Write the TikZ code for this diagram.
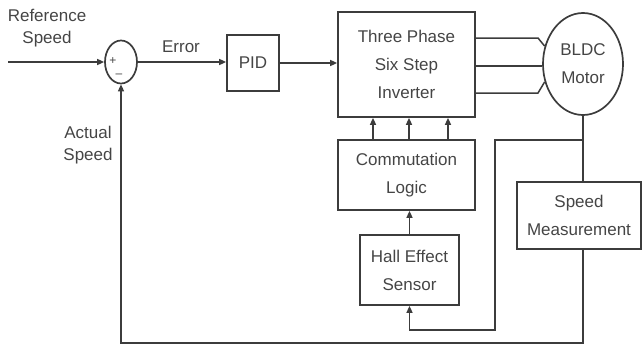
\documentclass[tikz,border=0pt]{standalone}
\usepackage{fontspec}
\setmainfont{Liberation Sans}
\usetikzlibrary{shapes.geometric,arrows.meta}

\definecolor{wire}{HTML}{3C3C3C}
\definecolor{ink}{HTML}{454545}

\tikzset{
  blk/.style={draw=wire,line width=1.7pt,inner sep=0pt,align=center,text=ink,
    font=\fontsize{17}{28}\selectfont},
  lbl/.style={text=ink,align=center,inner sep=0pt,font=\fontsize{17}{22}\selectfont},
  wire/.style={draw=wire,line width=1.5pt},
  sig/.style={wire,-{Triangle[length=7pt,width=6pt]}},
}

\begin{document}
\begin{tikzpicture}[x=1pt,y=-1pt]
\path[use as bounding box] (0,0) rectangle (642,346);

% blocks
\node[blk,ellipse,minimum width=32,minimum height=43] (sum) at (121,62) {};
\node[text=ink,inner sep=0pt,font=\fontsize{12}{12}\selectfont] (plus) at (113,61) {+};
\node[text=ink,inner sep=0pt,font=\fontsize{12}{12}\selectfont] (minus) at (119,76) {--};
\node[blk,minimum width=52,minimum height=56] (pid) at (253,63) {PID};
\node[blk,minimum width=137,minimum height=105] (inv) at (406.5,64.5)
  {Three Phase\\Six Step\\Inverter};
\node[blk,ellipse,minimum width=80,minimum height=102] (motor) at (583,64)
  {BLDC\\Motor};
\node[blk,minimum width=137,minimum height=70] (comm) at (406.5,175)
  {Commutation\\Logic};
\node[blk,minimum width=99,minimum height=70] (hall) at (409.5,270)
  {Hall Effect\\Sensor};
\node[blk,minimum width=124,minimum height=67] (speed) at (579,215.5)
  {Speed\\Measurement};

% labels
\node[lbl] (reflbl) at (47,28) {Reference\\Speed};
\node[lbl] (errlbl) at (181,47) {Error};
\node[lbl] (actlbl) at (88,145) {Actual\\Speed};

% forward path
\coordinate (ref) at (sum.west -| 8,0);
\draw[sig] (ref) -- (sum.west);
\draw[sig] (sum.east) -- (pid.west |- sum.east);
\draw[sig] (pid.east) -- (inv.west |- pid.east);

% inverter to motor
\draw[wire] (inv.east |- 0,38) -- (538,38) -- (motor.155);
\draw[wire] (inv.east |- 0,66) -- (motor.west |- 0,66);
\draw[wire] (inv.east |- 0,93) -- (538,93) -- (motor.205);

% commutation to inverter
\foreach \x in {373,409,448}
  \draw[sig] (comm.north -| \x,0) -- (inv.south -| \x,0);
\draw[sig] (hall.north) -- (hall.north |- comm.south);

% hall feedback
\coordinate (tap) at (motor.south |- 0,140);
\draw[wire] (motor.south) -- (motor.south |- speed.north);
\draw[sig] (tap) -- (495,140) -- (495,330) -- (hall.south |- 0,330) -- (hall.south);

% speed feedback
\draw[sig] (motor.south |- speed.south) -- (motor.south |- 0,343)
  -- (sum.south |- 0,343) -- (sum.south);
\end{tikzpicture}
\end{document}
